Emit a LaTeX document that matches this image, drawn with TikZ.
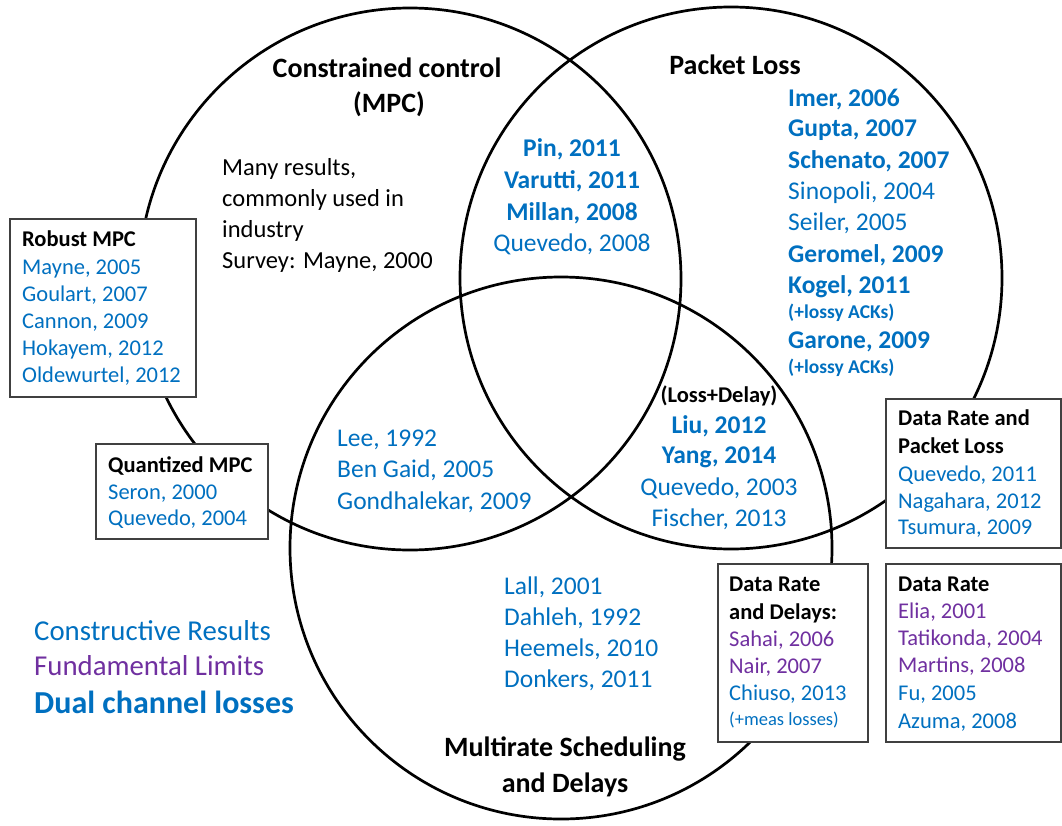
\documentclass[tikz,border=0pt]{standalone}
\usepackage{fontspec}
\setmainfont{Carlito}
\definecolor{cblue}{RGB}{0,112,192}
\definecolor{cpurp}{RGB}{112,48,160}
\tikzset{
  x=1pt, y=-1pt,
  venn/.style={draw=black, line width=2.7pt},
  refbox/.style={draw=black!75, line width=1.2pt, fill=white},
  lt/.style={inner sep=0pt, anchor=base west},
  ct/.style={inner sep=0pt, anchor=base},
  fhead/.style={font=\fontsize{28}{35}\selectfont\bfseries},
  fmid/.style={font=\fontsize{24.5}{31}\selectfont},
  fbig/.style={font=\fontsize{25.5}{31}\selectfont},
  fbigb/.style={font=\fontsize{25.5}{31}\selectfont\bfseries},
  fbox/.style={font=\fontsize{22.5}{27}\selectfont},
  fboxb/.style={font=\fontsize{22.5}{27}\selectfont\bfseries},
  fsm/.style={font=\fontsize{18.5}{20}\selectfont},
  fsmb/.style={font=\fontsize{19.5}{20}\selectfont\bfseries},
  tblue/.style={text=cblue},
  tpurp/.style={text=cpurp},
}
\begin{document}
\begin{tikzpicture}
\useasboundingbox[fill=white] (0,0) rectangle (1062,825);
% circles
\draw[venn] (410,279) circle[radius=271pt];
\draw[venn] (731,278) circle[radius=271pt];
\draw[venn] (561,548) circle[radius=271pt];
% boxes
\draw[refbox] (10,219) rectangle (196,397);
\draw[refbox] (96,444) rectangle (268,539);
\draw[refbox] (886,399) rectangle (1061,548);
\draw[refbox] (718,564) rectangle (868,742);
\draw[refbox] (886,564) rectangle (1061,742);
% headings
\node[ct,fhead] (h1a) at (387,77) {Constrained control};
\node[ct,fhead] (h1b) at (389,112) {(MPC)};
\node[ct,fhead] (h2) at (735,74) {Packet Loss};
\node[ct,fhead] (h3a) at (565,756) {Multirate Scheduling};
\node[ct,fhead] (h3b) at (565,792) {and Delays};
% constrained control body
\node[lt,fmid] (m1) at (222,175) {Many results,};
\node[lt,fmid] (m2) at (222,206) {commonly used in};
\node[lt,fmid] (m3) at (222,237) {industry};
\node[lt,fmid] (m4) at (222,268) {Survey: Mayne, 2000};
% C1 & C2
\node[ct,fbigb,tblue] (p1) at (572,156) {Pin, 2011};
\node[ct,fbigb,tblue] (p2) at (572,188) {Varutti, 2011};
\node[ct,fbigb,tblue] (p3) at (572,220) {Millan, 2008};
\node[ct,fbig,tblue] (p4) at (572,251) {Quevedo, 2008};
% packet loss list
\node[lt,fbigb,tblue] (k1) at (788,106) {Imer, 2006};
\node[lt,fbigb,tblue] (k2) at (788,136) {Gupta, 2007};
\node[lt,fbigb,tblue] (k3) at (788,168) {Schenato, 2007};
\node[lt,fbig,tblue] (k4) at (788,199) {Sinopoli, 2004};
\node[lt,fbig,tblue] (k5) at (788,230) {Seiler, 2005};
\node[lt,fbigb,tblue] (k6) at (788,262) {Geromel, 2009};
\node[lt,fbigb,tblue] (k7) at (788,293) {Kogel, 2011};
\node[lt,fsmb,tblue] (k8) at (788,318) {(+lossy ACKs)};
\node[lt,fbigb,tblue] (k9) at (788,348) {Garone, 2009};
\node[lt,fsmb,tblue] (k10) at (788,373) {(+lossy ACKs)};
% C1 & C3
\node[lt,fbig,tblue] (l1) at (337,446) {Lee, 1992};
\node[lt,fbig,tblue] (l2) at (337,477) {Ben Gaid, 2005};
\node[lt,fbig,tblue] (l3) at (337,509) {Gondhalekar, 2009};
% C2 & C3
\node[ct,fboxb] (d0) at (719,402) {(Loss+Delay)};
\node[ct,fbigb,tblue] (d1) at (719,433) {Liu, 2012};
\node[ct,fbigb,tblue] (d2) at (719,463) {Yang, 2014};
\node[ct,fbig,tblue] (d3) at (719,495) {Quevedo, 2003};
\node[ct,fbig,tblue] (d4) at (719,526) {Fischer, 2013};
% C3 only
\node[lt,fbig,tblue] (s1) at (504,594) {Lall, 2001};
\node[lt,fbig,tblue] (s2) at (504,625) {Dahleh, 1992};
\node[lt,fbig,tblue] (s3) at (504,656) {Heemels, 2010};
\node[lt,fbig,tblue] (s4) at (504,687) {Donkers, 2011};
% legend
\node[lt,font=\fontsize{28.8}{34}\selectfont,tblue] (g1) at (34,640) {Constructive Results};
\node[lt,font=\fontsize{28.8}{34}\selectfont,tpurp] (g2) at (34,675) {Fundamental Limits};
\node[lt,font=\fontsize{32}{38}\selectfont\bfseries,tblue] (g3) at (34,713) {Dual channel losses};
% Robust MPC box
\node[lt,fboxb] (r0) at (22,246) {Robust MPC};
\node[lt,fbox,tblue] (r1) at (22,274) {Mayne, 2005};
\node[lt,fbox,tblue] (r2) at (22,301) {Goulart, 2007};
\node[lt,fbox,tblue] (r3) at (22,328) {Cannon, 2009};
\node[lt,fbox,tblue] (r4) at (22,355) {Hokayem, 2012};
\node[lt,fbox,tblue] (r5) at (22,382) {Oldewurtel, 2012};
% Quantized MPC box
\node[lt,fboxb] (q0) at (108,472) {Quantized MPC};
\node[lt,fbox,tblue] (q1) at (108,499) {Seron, 2000};
\node[lt,fbox,tblue] (q2) at (108,525) {Quevedo, 2004};
% Data rate and packet loss
\node[lt,fboxb] (a0) at (898,425) {Data Rate and};
\node[lt,fboxb] (a1) at (898,453) {Packet Loss};
\node[lt,fbox,tblue] (a2) at (898,481) {Quevedo, 2011};
\node[lt,fbox,tblue] (a3) at (898,508) {Nagahara, 2012};
\node[lt,fbox,tblue] (a4) at (898,534) {Tsumura, 2009};
% Data rate and delays
\node[lt,fboxb] (b0) at (729,591) {Data Rate};
\node[lt,fboxb] (b1) at (729,619) {and Delays:};
\node[lt,fbox,tpurp] (b2) at (729,646) {Sahai, 2006};
\node[lt,fbox,tpurp] (b3) at (729,673) {Nair, 2007};
\node[lt,fbox,tblue] (b4) at (729,700) {Chiuso, 2013};
\node[lt,fsm,tblue] (b5) at (729,725) {(+meas losses)};
% Data rate
\node[lt,fboxb] (c0) at (898,591) {Data Rate};
\node[lt,fbox,tpurp] (c1) at (898,618) {Elia, 2001};
\node[lt,fbox,tpurp] (c2) at (898,645) {Tatikonda, 2004};
\node[lt,fbox,tpurp] (c3) at (898,672) {Martins, 2008};
\node[lt,fbox,tblue] (c4) at (898,700) {Fu, 2005};
\node[lt,fbox,tblue] (c5) at (898,728) {Azuma, 2008};
\end{tikzpicture}
\end{document}
